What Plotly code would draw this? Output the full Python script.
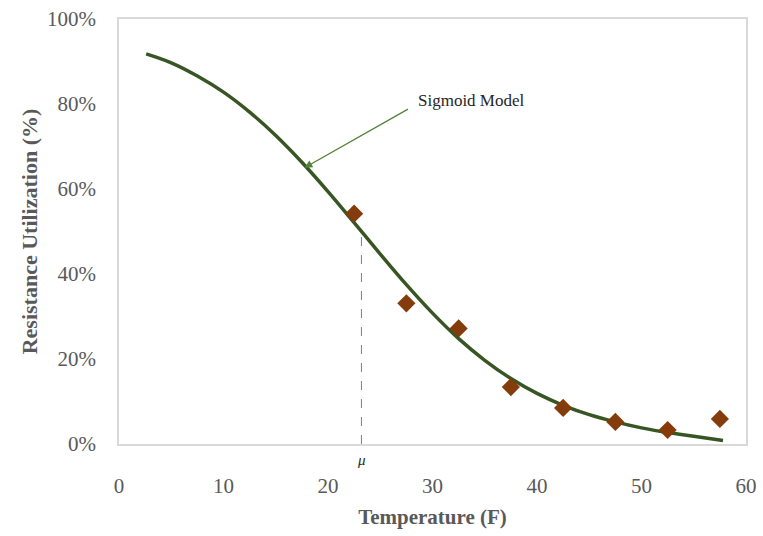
import plotly.graph_objects as go

# Observed data (diamond markers)
obs_temp = [22.5, 27.5, 32.5, 37.5, 42.5, 47.5, 52.5, 57.5]
obs_util = [0.542, 0.331, 0.272, 0.134, 0.085, 0.052, 0.033, 0.059]

# Sigmoid model curve
model_temp = [2.6, 5, 7.5, 10, 12.5, 15, 17.5, 20, 22.5, 25, 27.5, 30, 32.5, 35,
              37.5, 40, 42.5, 45, 47.5, 50, 52.5, 55, 57.8]
model_util = [0.918, 0.897, 0.866, 0.828, 0.781, 0.726, 0.663, 0.594, 0.521, 0.447,
              0.375, 0.308, 0.248, 0.197, 0.154, 0.119, 0.091, 0.069, 0.052, 0.038,
              0.027, 0.018, 0.008]

# Mean (mu) marker
mu_temp = 23.2
mu_line_top = 0.487

x_ticks = [0, 10, 20, 30, 40, 50, 60]
y_ticks = [0, 0.2, 0.4, 0.6, 0.8, 1.0]

gray = "#595959"
font_family = "Liberation Serif, DejaVu Serif, serif"

fig = go.Figure()

fig.add_trace(go.Scatter(
    x=[mu_temp, mu_temp], y=[0, mu_line_top], mode="lines",
    line=dict(color="#7f7f7f", width=1, dash="dash"), showlegend=False, hoverinfo="skip"))

fig.add_trace(go.Scatter(
    x=model_temp, y=model_util, mode="lines", line=dict(color="#375623", width=3.5, shape="spline"),
    showlegend=False, name="Sigmoid Model"))

fig.add_trace(go.Scatter(
    x=obs_temp, y=obs_util, mode="markers",
    marker=dict(symbol="diamond", size=14, color="#843C0C"),
    showlegend=False, name="Observed"))

# Arrow
fig.add_annotation(x=17.75, y=0.65, ax=27.8, ay=0.79, xref="x", yref="y", axref="x", ayref="y",
                   text="", showarrow=True, arrowhead=2, arrowsize=1.2, arrowwidth=1.3,
                   arrowcolor="#548235")
fig.add_annotation(x=28.4, y=0.808, xref="x", yref="y", text="Sigmoid Model", showarrow=False,
                   xanchor="left", yanchor="middle",
                   font=dict(family=font_family, size=17, color="#262626"))
# mu label
fig.add_annotation(x=mu_temp, y=0, xref="x", yref="y", text="<i>μ</i>", showarrow=False,
                   yanchor="top", yshift=-6,
                   font=dict(family=font_family, size=15, color="#262626"))

fig.update_layout(
    width=763, height=536,
    margin=dict(l=119, r=17, t=19, b=92),
    plot_bgcolor="white", paper_bgcolor="white",
    font=dict(family=font_family, color=gray),
)
fig.update_xaxes(
    range=[0, 60], tickvals=x_ticks, showgrid=False, zeroline=False,
    showline=True, mirror=True, linecolor="#d9d9d9", linewidth=1.5,
    ticks="", ticklabelstandoff=22, automargin=False,
    tickfont=dict(family=font_family, size=21, color=gray),
    title=dict(text="<b>Temperature (F)</b>", standoff=12,
               font=dict(family=font_family, size=21, color=gray)),
)
fig.update_yaxes(
    range=[0, 1.0], tickvals=y_ticks, tickformat=".0%", showgrid=False, zeroline=False,
    showline=True, mirror=True, linecolor="#d9d9d9", linewidth=1.5,
    ticks="", ticklabelstandoff=17, automargin=False,
    tickfont=dict(family=font_family, size=21, color=gray),
    title=dict(text="<b>Resistance Utilization (%)</b>", standoff=3,
               font=dict(family=font_family, size=22, color=gray)),
)

fig.write_html("out.html")
